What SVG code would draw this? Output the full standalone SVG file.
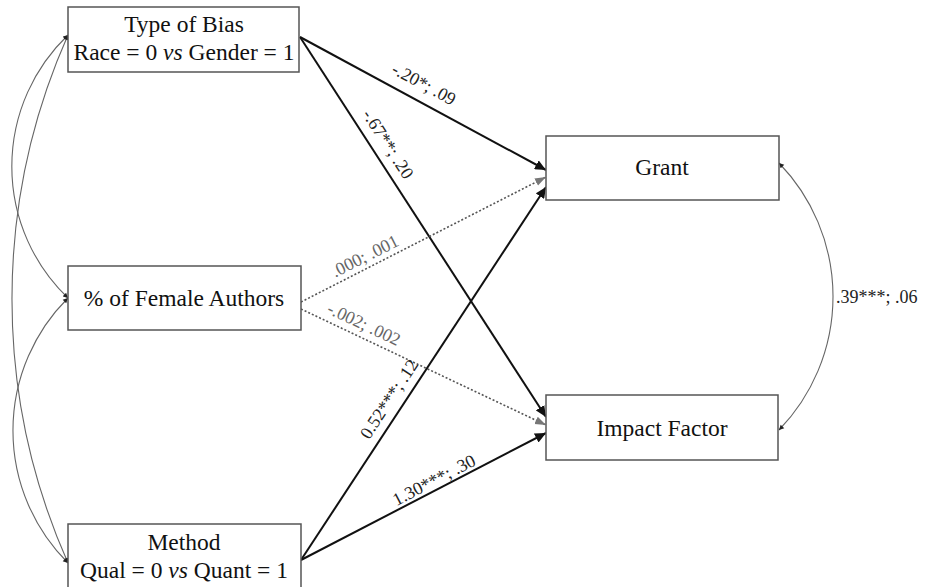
<svg xmlns="http://www.w3.org/2000/svg" width="926" height="587" viewBox="0 0 926 587">
<style>
.box{fill:#fff;stroke:#555;stroke-width:1.5}
.nt{font-family:"Liberation Serif","Times New Roman",serif;font-size:23.5px;fill:#111;text-anchor:middle}
.lb{font-family:"Liberation Serif","Times New Roman",serif;font-size:18px;fill:#222;text-anchor:middle}
.lbg{font-family:"Liberation Serif","Times New Roman",serif;font-size:18px;fill:#666;text-anchor:middle}
.solid{stroke:#111;stroke-width:2;fill:none;marker-end:url(#ah)}
.dot{stroke:#555;stroke-width:1.6;fill:none;stroke-dasharray:2 2;marker-end:url(#ahg)}
.cov{stroke:#666;stroke-width:1.1;fill:none;marker-start:url(#sm);marker-end:url(#sm)}
</style>
<defs>
<marker id="ah" markerUnits="userSpaceOnUse" markerWidth="12" markerHeight="10" refX="11" refY="5" orient="auto"><path d="M0,0 L11,5 L0,10 Z" fill="#111"/></marker>
<marker id="ahg" markerUnits="userSpaceOnUse" markerWidth="12" markerHeight="10" refX="11" refY="5" orient="auto"><path d="M0,1 L11,5 L0,9 Z" fill="#777"/></marker>
<marker id="sm" markerUnits="userSpaceOnUse" markerWidth="6" markerHeight="6" refX="5" refY="3" orient="auto-start-reverse"><path d="M0,0.5 L5,3 L0,5.5 Z" fill="#222"/></marker>
</defs>
<g id="connectors">
<path class="cov" d="M68,35 A182,182 0 0 0 68,298"/>
<path class="cov" d="M68,35 A650,650 0 0 0 68,563"/>
<path class="cov" d="M68,298 A187,187 0 0 0 68,563"/>
<path class="cov" d="M779,163 A192,192 0 0 1 779,430"/>
<line class="solid" x1="300" y1="37" x2="546" y2="170"/>
<line class="solid" x1="300" y1="37" x2="546" y2="417"/>
<line class="dot" x1="301" y1="302" x2="546" y2="177"/>
<line class="dot" x1="301" y1="309" x2="546" y2="425"/>
<line class="solid" x1="301" y1="560" x2="546" y2="187"/>
<line class="solid" x1="301" y1="560" x2="546" y2="433"/>
<text class="lb" x="424" y="90" transform="rotate(28.4 424 84)">-.20*; .09</text>
<text class="lb" x="388" y="150" transform="rotate(57.1 388 144)">-.67**; .20</text>
<text class="lbg" x="365" y="262" transform="rotate(-26.8 365 256)">.000; .001</text>
<text class="lbg" x="364" y="330" transform="rotate(25.3 364 324)">-.002; .002</text>
<text class="lb" x="389" y="405" transform="rotate(-56.7 389 399)">0.52***; .12</text>
<text class="lb" x="434" y="486" transform="rotate(-27.4 434 480)">1.30***; .30</text>
<text class="lb" x="836" y="303" style="text-anchor:start">.39***; .06</text>
</g>
<g id="type-of-bias">
<rect class="box" x="68" y="7" width="231" height="65"/>
<text class="nt" x="184" y="32">Type of Bias</text>
<text class="nt" x="184" y="60">Race = 0 <tspan font-style="italic">vs</tspan> Gender = 1</text>
</g>
<g id="female-authors">
<rect class="box" x="68" y="266" width="233" height="64"/>
<text class="nt" x="184" y="306">% of Female Authors</text>
</g>
<g id="method">
<rect class="box" x="68" y="524" width="233" height="70"/>
<text class="nt" x="184" y="550">Method</text>
<text class="nt" x="184" y="578">Qual = 0 <tspan font-style="italic">vs</tspan> Quant = 1</text>
</g>
<g id="grant">
<rect class="box" x="546" y="136" width="233" height="64"/>
<text class="nt" x="662" y="175">Grant</text>
</g>
<g id="impact-factor">
<rect class="box" x="546" y="395" width="232" height="65"/>
<text class="nt" x="662" y="436">Impact Factor</text>
</g>
</svg>
